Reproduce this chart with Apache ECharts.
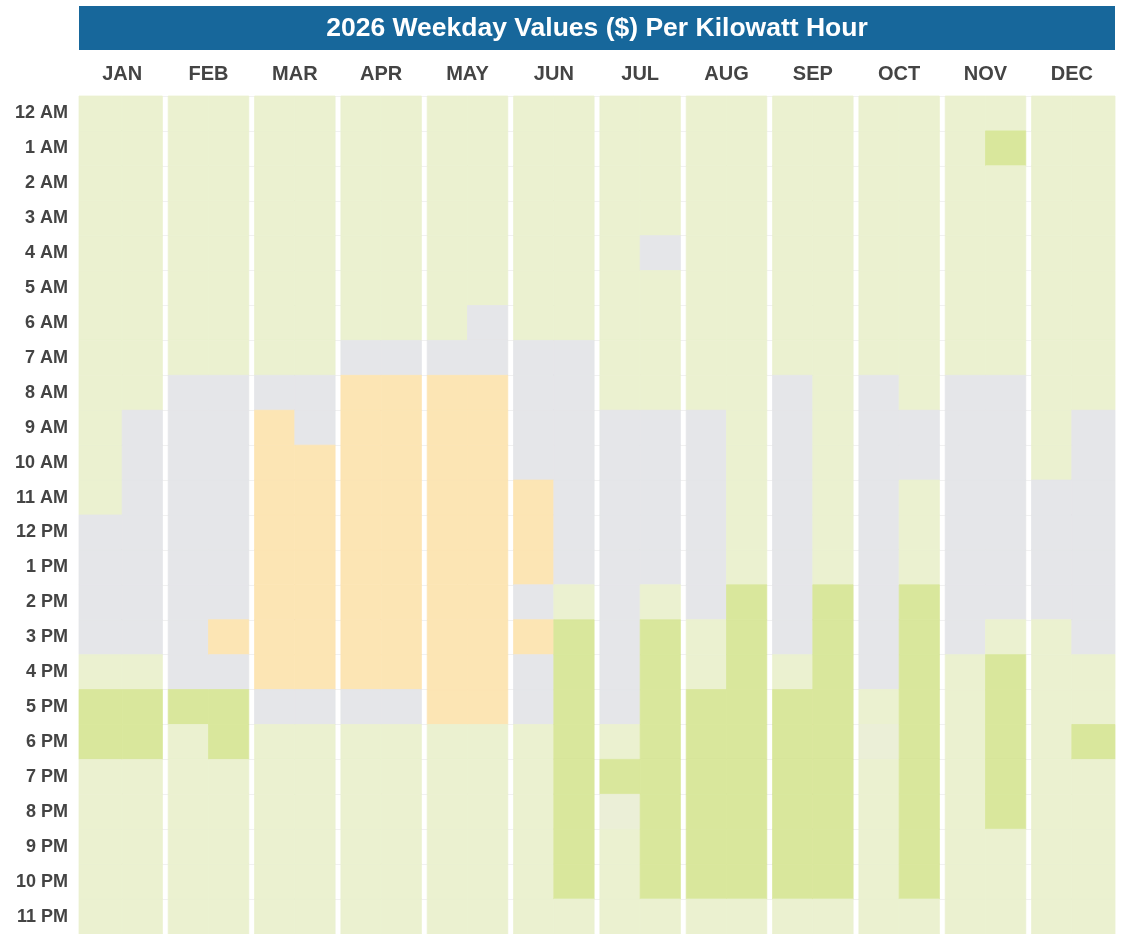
<!DOCTYPE html>
<html>
<head>
<meta charset="utf-8">
<title>2026 Weekday Values</title>
<script src="https://cdn.jsdelivr.net/npm/echarts@6/dist/echarts.min.js"></script>
<style>
  html, body { margin: 0; padding: 0; background: #fff; }
  #chart { width: 1124px; height: 934px; }
</style>
</head>
<body>
<div id="chart"></div>
<script>
// value levels: 1 = lowest (orange), 2 = low (gray), 2.8 = mid-low, 3 = mid (light green), 4 = high (green)
var months = ["JAN", "FEB", "MAR", "APR", "MAY", "JUN", "JUL", "AUG", "SEP", "OCT", "NOV", "DEC"];
var hours = ["12 AM", "1 AM", "2 AM", "3 AM", "4 AM", "5 AM", "6 AM", "7 AM", "8 AM", "9 AM", "10 AM", "11 AM",
             "12 PM", "1 PM", "2 PM", "3 PM", "4 PM", "5 PM", "6 PM", "7 PM", "8 PM", "9 PM", "10 PM", "11 PM"];

// each month: first half, second half (24 hourly values each)
var jan = [
  [3,3,3,3,3,3,3,3,3,3,3,3, 2,2,2,2,3,4,4,3,3,3,3,3],
  [3,3,3,3,3,3,3,3,3,2,2,2, 2,2,2,2,3,4,4,3,3,3,3,3]
];
var feb = [
  [3,3,3,3,3,3,3,3,2,2,2,2, 2,2,2,2,2,4,3,3,3,3,3,3],
  [3,3,3,3,3,3,3,3,2,2,2,2, 2,2,2,1,2,4,4,3,3,3,3,3]
];
var mar = [
  [3,3,3,3,3,3,3,3,2,1,1,1, 1,1,1,1,1,2,3,3,3,3,3,3],
  [3,3,3,3,3,3,3,3,2,2,1,1, 1,1,1,1,1,2,3,3,3,3,3,3]
];
var apr = [
  [3,3,3,3,3,3,3,2,1,1,1,1, 1,1,1,1,1,2,3,3,3,3,3,3],
  [3,3,3,3,3,3,3,2,1,1,1,1, 1,1,1,1,1,2,3,3,3,3,3,3]
];
var may = [
  [3,3,3,3,3,3,3,2,1,1,1,1, 1,1,1,1,1,1,3,3,3,3,3,3],
  [3,3,3,3,3,3,2,2,1,1,1,1, 1,1,1,1,1,1,3,3,3,3,3,3]
];
var jun = [
  [3,3,3,3,3,3,3,2,2,2,2,1, 1,1,2,1,2,2,3,3,3,3,3,3],
  [3,3,3,3,3,3,3,2,2,2,2,2, 2,2,3,4,4,4,4,4,4,4,4,3]
];
var jul = [
  [3,3,3,3,3,3,3,3,3,2,2,2, 2,2,2,2,2,2,3,4,2.8,3,3,3],
  [3,3,3,3,2,3,3,3,3,2,2,2, 2,2,3,4,4,4,4,4,4,4,4,3]
];
var aug = [
  [3,3,3,3,3,3,3,3,3,2,2,2, 2,2,2,3,3,4,4,4,4,4,4,3],
  [3,3,3,3,3,3,3,3,3,3,3,3, 3,3,4,4,4,4,4,4,4,4,4,3]
];
var sep = [
  [3,3,3,3,3,3,3,3,2,2,2,2, 2,2,2,2,3,4,4,4,4,4,4,3],
  [3,3,3,3,3,3,3,3,3,3,3,3, 3,3,4,4,4,4,4,4,4,4,4,3]
];
var oct = [
  [3,3,3,3,3,3,3,3,2,2,2,2, 2,2,2,2,2,3,2.8,3,3,3,3,3],
  [3,3,3,3,3,3,3,3,3,2,2,3, 3,3,4,4,4,4,4,4,4,4,4,3]
];
var nov = [
  [3,3,3,3,3,3,3,3,2,2,2,2, 2,2,2,2,3,3,3,3,3,3,3,3],
  [3,4,3,3,3,3,3,3,2,2,2,2, 2,2,2,3,4,4,4,4,4,3,3,3]
];
var dec = [
  [3,3,3,3,3,3,3,3,3,3,3,2, 2,2,2,3,3,3,3,3,3,3,3,3],
  [3,3,3,3,3,3,3,3,3,2,2,2, 2,2,2,2,3,3,4,3,3,3,3,3]
];

var monthValues = [jan, feb, mar, apr, may, jun, jul, aug, sep, oct, nov, dec];

var halfCols = [];
var data = [];
monthValues.forEach(function (halves, m) {
  halves.forEach(function (vals, h) {
    var col = m * 2 + h;
    halfCols.push(months[m] + (h ? " b" : " a"));
    vals.forEach(function (v, hr) {
      data.push([col, hr, v]);
    });
  });
});

var FONT = '"Liberation Sans", Arial, Helvetica, sans-serif';
var chart = echarts.init(document.getElementById("chart"));

chart.setOption({
  backgroundColor: "#fff",
  animation: false,
  graphic: [
    {
      type: "rect",
      left: 79,
      top: 6,
      shape: { width: 1036, height: 44 },
      style: { fill: "#17679b" }
    },
    {
      type: "text",
      x: 597,
      y: 29,
      style: {
        text: "2026 Weekday Values ($) Per Kilowatt Hour",
        fill: "#fff",
        font: "bold 26.5px " + FONT,
        align: "center",
        verticalAlign: "middle"
      }
    }
  ],
  grid: { left: 79, right: 9, top: 96, bottom: 0 },
  xAxis: [
    {
      type: "category",
      data: halfCols,
      show: false
    },
    {
      type: "category",
      data: months,
      position: "top",
      axisLine: { show: false },
      axisTick: { show: false },
      axisLabel: {
        margin: 12,
        color: "#444",
        fontWeight: "bold",
        fontSize: 20,
        fontFamily: FONT
      }
    }
  ],
  yAxis: {
    type: "category",
    data: hours,
    inverse: true,
    axisLine: { show: false },
    axisTick: { show: false },
    splitLine: { show: true, lineStyle: { color: "#f1f1f1", width: 1 } },
    axisLabel: {
      margin: 11,
      color: "#444",
      fontWeight: "bold",
      fontSize: 18,
      fontFamily: FONT
    }
  },
  visualMap: {
    type: "piecewise",
    show: false,
    dimension: 2,
    seriesIndex: 0,
    pieces: [
      { value: 1, color: "#fce5b4" },
      { value: 2, color: "#e5e6e9" },
      { value: 2.8, color: "#ebefd7" },
      { value: 3, color: "#ebf1d0" },
      { value: 4, color: "#d9e79c" }
    ]
  },
  series: [
    {
      type: "custom",
      xAxisIndex: 0,
      yAxisIndex: 0,
      encode: { x: 0, y: 1 },
      data: data,
      renderItem: function (params, api) {
        var col = api.value(0);
        var p = api.coord([col, api.value(1)]);
        var size = api.size([1, 1]);
        var gap = 2.9;
        var x0 = p[0] - size[0] / 2;
        var x1 = p[0] + size[0] / 2;
        if (col % 2 === 0 && col > 0) x0 += gap;
        if (col % 2 === 1 && col < halfCols.length - 1) x1 -= gap;
        var color = api.visual("color");
        return {
          type: "rect",
          shape: { x: x0, y: p[1] - size[1] / 2, width: x1 - x0, height: size[1] },
          style: { fill: color, stroke: color, lineWidth: 0.8 }
        };
      }
    }
  ]
});
</script>
</body>
</html>
